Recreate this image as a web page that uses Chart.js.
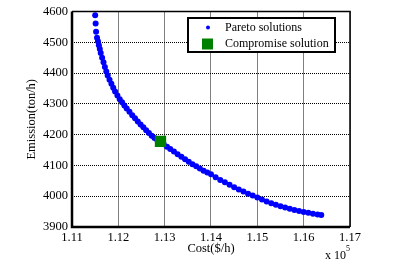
<!DOCTYPE html>
<html>
<head>
<meta charset="utf-8">
<script src="https://cdn.jsdelivr.net/npm/chart.js@4"></script>
<style>
  html, body { margin: 0; padding: 0; background: #fff; }
  #wrap { width: 416px; height: 266px; }
</style>
</head>
<body>
<div id="wrap"><canvas id="paretoChart" width="416" height="266"></canvas></div>
<script>
// Pareto front (cost in units of 1e5 $/h, emission in ton/h)
const paretoCost = [
  1.1150, 1.1151, 1.1152, 1.1154, 1.1156, 1.1158, 1.1160, 1.1162, 1.1165, 1.1168,
  1.1171, 1.1174, 1.1177, 1.1181, 1.1185, 1.1189, 1.1193, 1.1198, 1.1203, 1.1208,
  1.1213, 1.1218, 1.1224, 1.1230, 1.1236, 1.1242, 1.1248, 1.1254, 1.1260, 1.1266,
  1.1272, 1.1278, 1.1284, 1.1291, 1.1298, 1.1305, 1.1312, 1.1320, 1.1328, 1.1336,
  1.1344, 1.1352, 1.1360, 1.1368, 1.1376, 1.1384, 1.1392, 1.1400, 1.1410, 1.1420,
  1.1430, 1.1440, 1.1450, 1.1460, 1.1470, 1.1480, 1.1490, 1.1500, 1.1510, 1.1520,
  1.1530, 1.1540, 1.1550, 1.1560, 1.1570, 1.1580, 1.1590, 1.1600, 1.1610, 1.1620,
  1.1630, 1.1638
];
const paretoEmission = [
  4588, 4561, 4534, 4515, 4503, 4490, 4478, 4465, 4450, 4435,
  4420, 4405, 4392, 4378, 4365, 4352, 4340, 4327, 4315, 4305,
  4295, 4285, 4274, 4263, 4253, 4243, 4233, 4224, 4214, 4205,
  4196, 4189, 4183, 4176, 4169, 4161, 4153, 4145, 4136, 4128,
  4120, 4112, 4104, 4097, 4090, 4083, 4077, 4071, 4062, 4053,
  4045, 4037, 4029, 4022, 4015, 4008, 4002, 3996, 3989, 3983,
  3977, 3972, 3967, 3963, 3959, 3955, 3952, 3949, 3946, 3943,
  3941, 3939
];

// Best compromise point
const compromiseCost = [1.1291];
const compromiseEmission = [4178];

const costTicks = [1.11, 1.12, 1.13, 1.14, 1.15, 1.16, 1.17];
const emissionTicks = [3900, 4000, 4100, 4200, 4300, 4400, 4500, 4600];

const legendLabels = ['Pareto solutions', 'Compromise solution'];
const axisTitles = { x: 'Cost($/h)', y: 'Emission(ton/h)' };

const serif = "'Liberation Serif', 'Times New Roman', serif";

// frame, legend box and the x10^5 exponent label
const matlabDecor = {
  id: 'matlabDecor',
  afterDraw(chart) {
    const ctx = chart.ctx;
    const a = chart.chartArea;
    ctx.save();
    ctx.strokeStyle = '#000';
    // top / right thinner, left / bottom heavier like the original
    ctx.lineWidth = 1.5;
    ctx.beginPath();
    ctx.moveTo(a.left, a.top);
    ctx.lineTo(a.right, a.top);
    ctx.lineTo(a.right, a.bottom);
    ctx.stroke();
    ctx.lineWidth = 2.5;
    ctx.beginPath();
    ctx.moveTo(a.left, a.top);
    ctx.lineTo(a.left, a.bottom);
    ctx.lineTo(a.right, a.bottom);
    ctx.stroke();

    // legend
    const lx = 188, ly = 18, lw = 147, lh = 34;
    ctx.fillStyle = '#fff';
    ctx.fillRect(lx, ly, lw, lh);
    ctx.lineWidth = 2;
    ctx.strokeRect(lx, ly, lw, lh);
    ctx.fillStyle = '#0000ff';
    ctx.beginPath();
    ctx.arc(208, 27.5, 2, 0, Math.PI * 2);
    ctx.fill();
    ctx.fillStyle = '#008000';
    ctx.fillRect(202, 38.5, 11, 11);
    ctx.fillStyle = '#000';
    ctx.font = '12px ' + serif;
    ctx.textBaseline = 'middle';
    ctx.textAlign = 'left';
    ctx.fillText(legendLabels[0], 225, 27.5);
    ctx.fillText(legendLabels[1], 225, 44);

    // exponent label
    ctx.font = '12px ' + serif;
    ctx.textBaseline = 'alphabetic';
    ctx.fillText('x 10', 325, 259);
    ctx.font = '8px ' + serif;
    ctx.fillText('5', 346, 251);
    ctx.restore();
  }
};

const ctx = document.getElementById('paretoChart').getContext('2d');

new Chart(ctx, {
  type: 'scatter',
  data: {
    datasets: [
      {
        label: legendLabels[1],
        data: compromiseCost.map((c, i) => ({ x: c, y: compromiseEmission[i] })),
        pointStyle: 'rect',
        pointRadius: 8,
        backgroundColor: '#008000',
        borderWidth: 0,
        order: 0
      },
      {
        label: legendLabels[0],
        data: paretoCost.map((c, i) => ({ x: c, y: paretoEmission[i] })),
        pointStyle: 'circle',
        pointRadius: 3,
        backgroundColor: '#0000ff',
        borderWidth: 0,
        order: 1
      }
    ]
  },
  options: {
    responsive: false,
    animation: false,
    events: [],
    layout: { padding: { top: 11, right: 66, left: 0, bottom: 0 } },
    plugins: {
      legend: { display: false },
      tooltip: { enabled: false }
    },
    scales: {
      x: {
        type: 'linear',
        min: costTicks[0],
        max: costTicks[costTicks.length - 1],
        afterBuildTicks: scale => { scale.ticks = costTicks.map(v => ({ value: v })); },
        afterFit: scale => { scale.height = 39; },
        ticks: {
          color: '#000',
          padding: 3,
          maxRotation: 0,
          font: { family: serif, size: 12.5 },
          callback: v => v.toFixed(2)
        },
        grid: { color: '#000', lineWidth: 1, drawTicks: false },
        border: { display: false, dash: [1, 1] },
        title: {
          display: true,
          text: axisTitles.x,
          color: '#000',
          font: { family: serif, size: 12.5 },
          padding: { top: 0, bottom: 9.5 }
        }
      },
      y: {
        type: 'linear',
        min: emissionTicks[0],
        max: emissionTicks[emissionTicks.length - 1],
        afterBuildTicks: scale => { scale.ticks = emissionTicks.map(v => ({ value: v })); },
        afterFit: scale => { scale.width = 72; },
        ticks: {
          color: '#000',
          padding: 4,
          font: { family: serif, size: 12.5 },
          callback: v => String(v)
        },
        grid: { color: '#000', lineWidth: 1, drawTicks: false },
        border: { display: false, dash: [1, 1] },
        title: {
          display: true,
          text: axisTitles.y,
          color: '#000',
          font: { family: serif, size: 12.5 },
          padding: { top: 24.5, bottom: 0 }
        }
      }
    }
  },
  plugins: [matlabDecor]
});
</script>
</body>
</html>
